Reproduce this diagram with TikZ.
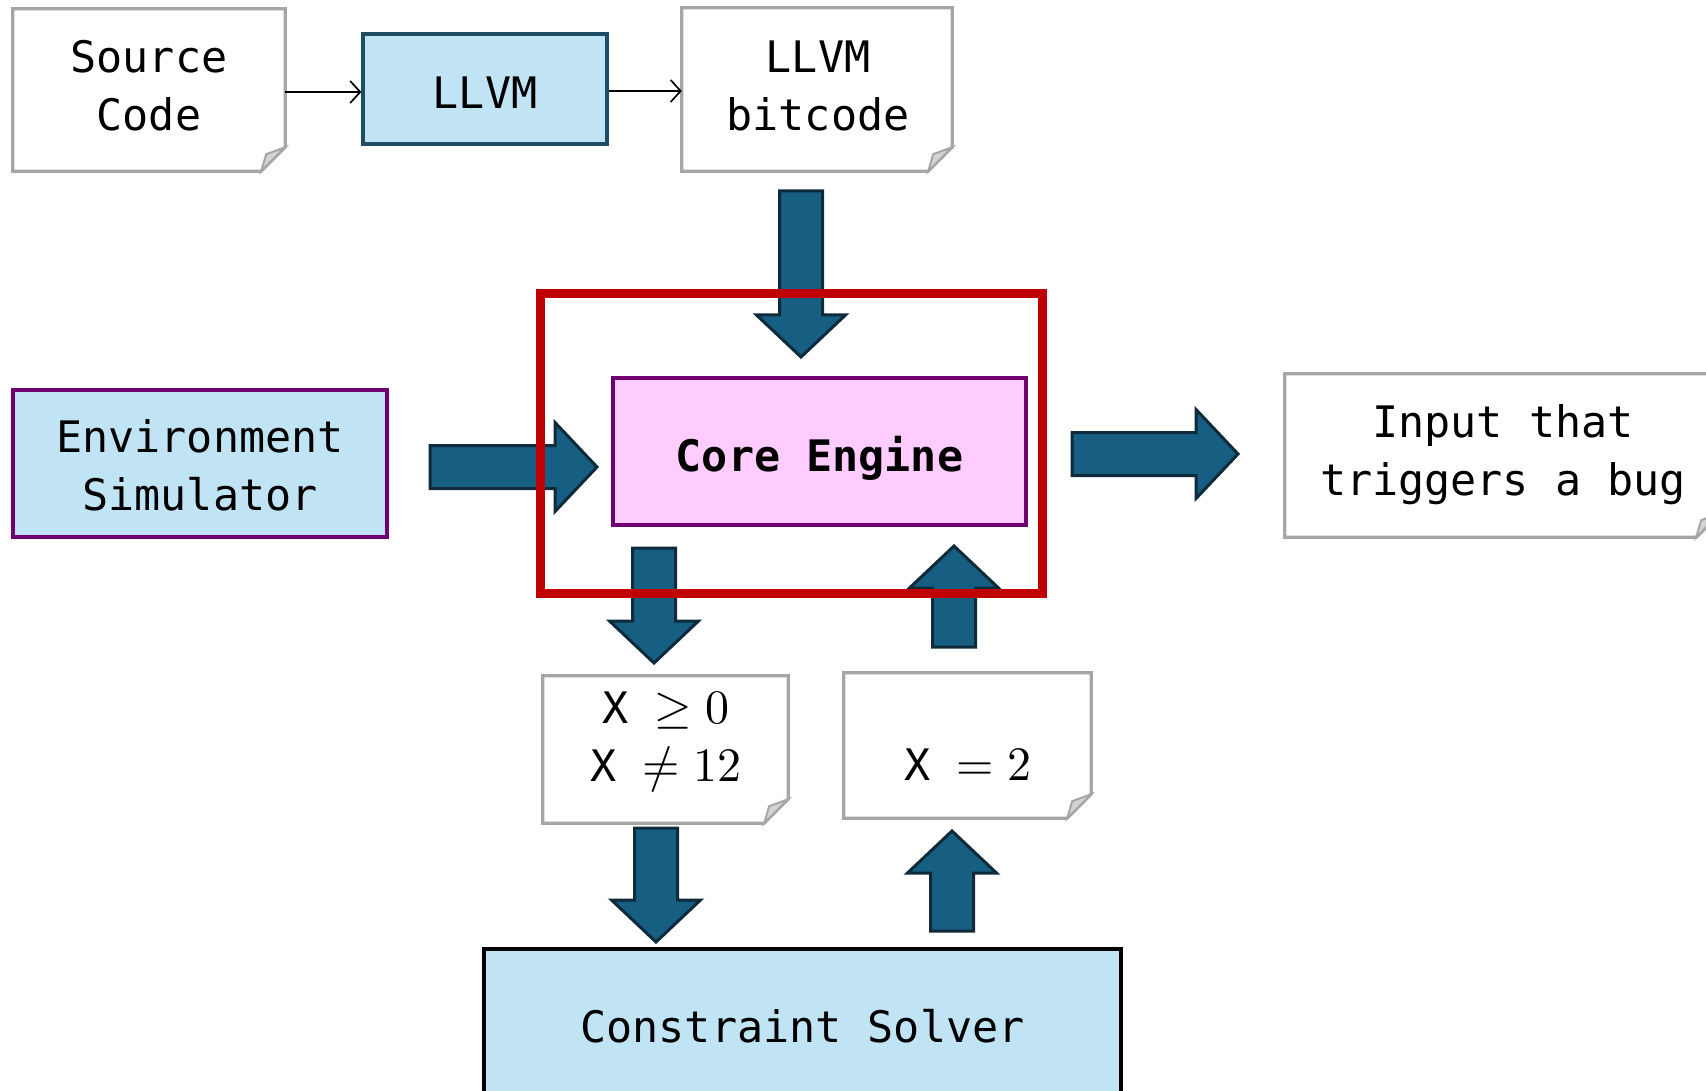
\documentclass[tikz,border=0pt]{standalone}
\usepackage{fontspec}
\usepackage{unicode-math}
\setmonofont{DejaVu Sans Mono}
\setmathfont{Latin Modern Math}
\usetikzlibrary{arrows.meta,calc}

\definecolor{boxblue}{HTML}{C0E4F4}
\definecolor{llvmedge}{HTML}{1F4D64}
\definecolor{flowfill}{HTML}{175F82}
\definecolor{flowedge}{HTML}{0F2B3B}
\definecolor{envedge}{HTML}{700070}
\definecolor{corefill}{HTML}{FFCCFF}
\definecolor{focusred}{HTML}{C00000}
\definecolor{paperedge}{HTML}{A6A6A6}
\definecolor{paperfold}{HTML}{D4D4D4}

\tikzset{
  every node/.style={font={\ttfamily\fontsize{43.4}{58}\selectfont}, inner sep=0pt, align=center},
  bluebox/.style={draw, line width=3.3pt, fill=boxblue},
  paper/.style={inner sep=0pt},
  paperline/.style={draw=paperedge, line width=3.3pt, line join=miter},
  thinflow/.style={line width=1.7pt, -{Straight Barb[length=10pt,width=22pt,line width=1.7pt]}},
  blockflow/.style={draw=flowedge, fill=flowfill, line width=3pt, line join=miter},
  focus/.style={draw=focusred, line width=9pt}
}

% relation and number part of a constraint, set in math
\newcommand\rel[1]{{\fontsize{48}{58}\selectfont$#1$}}

% paper sheet outline with a folded bottom-right corner
\newcommand\paperframe[1]{%
  \draw[paperline] (#1.north west) -- (#1.north east) -- ([yshift=24pt]#1.south east)
    -- ([xshift=-24pt]#1.south east) -- (#1.south west) -- cycle;
  \draw[paperline, line width=2pt, fill=paperfold] ([xshift=-24pt]#1.south east)
    -- ([xshift=-19pt,yshift=17pt]#1.south east) -- ([yshift=24pt]#1.south east) -- cycle;
}

% wide block arrow starting at a named coordinate, given direction and length
\newcommand\blockarrow[3]{%
  \begin{scope}[shift={(#1)}, rotate=#2]
    \draw[blockflow] (0,-21.5) -- (#3-42,-21.5) -- (#3-42,-44.5) -- (#3,0)
      -- (#3-42,44.5) -- (#3-42,21.5) -- (0,21.5) -- cycle;
  \end{scope}}

\begin{document}
\begin{tikzpicture}[x=1pt, y=-1pt]
\useasboundingbox (0,0) rectangle (1706,1091);
\fill[white] (0,0) rectangle (1706,1091);
\clip (0,0) rectangle (1706,1091);

% top row: compilation
\node[paper, minimum width=272pt, minimum height=162pt] (src) at (149,90) {};
\paperframe{src}
\node (srctext) at (149,86) {Source\\Code};

\node[bluebox, draw=llvmedge, minimum width=244pt, minimum height=110pt] (llvm) at (485,89) {};
\node (llvmtext) at ([yshift=-4pt]llvm.center) {LLVM};

\node[paper, minimum width=270pt, minimum height=163pt] (bc) at (817,89.5) {};
\paperframe{bc}
\node (bctext) at (818,86) {LLVM\\bitcode};

\draw[thinflow] ([yshift=-2pt]src.east) -- ([yshift=-2pt]src.east -| llvm.west);
\draw[thinflow] ([yshift=-2pt]llvm.east) -- ([yshift=-2pt]llvm.east -| bc.west);

% middle row
\node[bluebox, draw=envedge, minimum width=374pt, minimum height=147pt] (env) at (200,463.5) {};
\node (envtext) at ([yshift=-2pt]env.center) {Environment\\Simulator};

\node[draw=envedge, fill=corefill, line width=3.3pt, minimum width=413pt, minimum height=147pt] (core) at (819.5,451.5) {};
\node[font={\ttfamily\bfseries\fontsize{43.4}{58}\selectfont}] (coretext) at ([yshift=-6.5pt]core.center) {Core Engine};

\node[paper, minimum width=435pt, minimum height=163pt] (bug) at (1502.5,455.5) {};
\paperframe{bug}
\node (bugtext) at (1503,455) {Input that\\triggers a bug};

% path constraints and model
\node[paper, minimum width=245pt, minimum height=147pt] (pc) at (665.5,749.5) {};
\paperframe{pc}
\node (pctext) at (666,742.5) {X \rel{\geq 0}\\X \rel{\neq 12}};

\node[paper, minimum width=247pt, minimum height=145pt] (model) at (967.5,745.5) {};
\paperframe{model}
\node (modeltext) at (968,765) {X \rel{= 2}};

% solver
\node[bluebox, draw=black, minimum width=637pt, minimum height=154pt] (solver) at (802.5,1026) {};
\node (solvertext) at (solver.center) {Constraint Solver};

% block arrows
\coordinate (bcout) at (801,191);
\coordinate (envout) at (430,467);
\coordinate (coreout) at (1072,454);
\coordinate (corepc) at (654,548);
\coordinate (modelin) at (954,647);
\coordinate (pcout) at (656,828);
\coordinate (solverout) at (952,931);

\blockarrow{bcout}{-90}{166}
\blockarrow{envout}{0}{167}
\blockarrow{coreout}{0}{166}
\blockarrow{corepc}{-90}{115}
\blockarrow{modelin}{90}{101}
\blockarrow{pcout}{-90}{114}
\blockarrow{solverout}{90}{100}

% highlighted core region
\draw[focus] (540,294) rectangle (1042,593);
\end{tikzpicture}
\end{document}
